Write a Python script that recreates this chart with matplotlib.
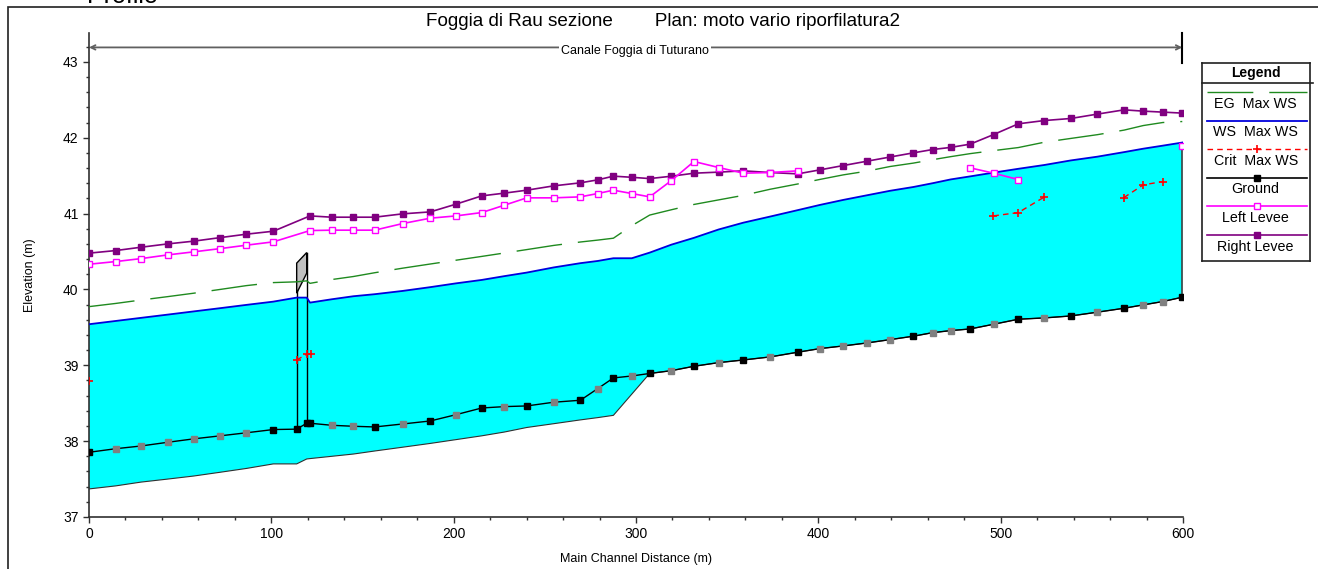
import numpy as np
import matplotlib.pyplot as plt
from matplotlib.lines import Line2D
from matplotlib.patches import Rectangle, Polygon

plt.rcParams['font.family'] = ['Liberation Sans', 'DejaVu Sans']

# river stations along the main channel (m)
station = [0, 14.6, 28.5, 43.2, 57.4, 72.0, 86.3, 101.1, 113.9, 119.4, 121.2,
           133.1, 145.0, 156.7, 172.0, 187.2, 201.3, 215.4, 227.8, 240.1, 254.9,
           269.5, 279.0, 287.6, 297.7, 307.5, 319.4, 331.8, 345.3, 358.9, 373.5,
           388.7, 400.9, 413.7, 426.9, 439.3, 452.1, 462.7, 472.6, 483.3, 496.2,
           509.7, 523.9, 538.4, 553.1, 567.7, 578.2, 588.9, 599.6]

ground = [37.853, 37.90, 37.936, 37.985, 38.03, 38.07, 38.11, 38.153, 38.158, 38.236, 38.236,
          38.209, 38.196, 38.187, 38.226, 38.266, 38.349, 38.437, 38.455, 38.464, 38.513,
          38.539, 38.692, 38.833, 38.859, 38.892, 38.929, 38.987, 39.035, 39.07, 39.11,
          39.172, 39.22, 39.255, 39.295, 39.338, 39.383, 39.43, 39.457, 39.479, 39.541,
          39.607, 39.624, 39.65, 39.70, 39.752, 39.796, 39.84, 39.897]

# surveyed sections (the rest are interpolated)
surveyed = [0, 101.1, 113.9, 119.4, 121.2, 156.7, 187.2, 215.4, 240.1, 269.5, 287.6,
            307.5, 331.8, 358.9, 388.7, 452.1, 483.3, 509.7, 538.4, 567.7, 599.6]

ws = [39.541, 39.584, 39.625, 39.668, 39.71, 39.753, 39.796, 39.839, 39.892, 39.892, 39.826,
      39.87, 39.91, 39.937, 39.98, 40.03, 40.08, 40.125, 40.175, 40.222, 40.29,
      40.346, 40.375, 40.411, 40.411, 40.485, 40.59, 40.68, 40.79, 40.88, 40.96,
      41.045, 41.114, 41.18, 41.242, 41.30, 41.35, 41.40, 41.45, 41.49, 41.54,
      41.59, 41.64, 41.70, 41.75, 41.81, 41.855, 41.895, 41.936]

eg = [39.773, 39.815, 39.86, 39.905, 39.95, 40.0, 40.05, 40.09, 40.10, 40.113, 40.08,
      40.13, 40.17, 40.22, 40.28, 40.335, 40.385, 40.435, 40.48, 40.525, 40.58,
      40.625, 40.65, 40.675, 40.84, 40.98, 41.05, 41.12, 41.18, 41.24, 41.32,
      41.39, 41.45, 41.51, 41.56, 41.62, 41.665, 41.71, 41.75, 41.79, 41.83,
      41.87, 41.94, 41.99, 42.04, 42.10, 42.16, 42.20, 42.213]

# old channel invert, upstream reach
invert_dist = [0, 14.6, 28.5, 43.2, 57.4, 72.0, 86.3, 101.1, 113.9, 119.4, 121.2,
               133.1, 145.0, 156.7, 172.0, 187.2, 201.3, 215.4, 227.8, 240.1, 254.9,
               269.5, 279.0, 287.6]
invert_elev = [37.37, 37.41, 37.46, 37.50, 37.54, 37.59, 37.64, 37.70, 37.70, 37.765, 37.77,
               37.80, 37.83, 37.87, 37.92, 37.97, 38.02, 38.07, 38.12, 38.18, 38.23,
               38.28, 38.31, 38.34]

rlev_dist = [0, 14.6, 28.5, 43.2, 57.4, 72.0, 86.3, 101.1, 121.2,
             133.1, 145.0, 156.7, 172.0, 187.2, 201.3, 215.4, 227.8, 240.1, 254.9,
             269.5, 279.0, 287.6, 297.7, 307.5, 319.4, 331.8, 345.3, 358.9, 373.5,
             388.7, 400.9, 413.7, 426.9, 439.3, 452.1, 462.7, 472.6, 483.3, 496.2,
             509.7, 523.9, 538.4, 553.1, 567.7, 578.2, 588.9, 599.6]
rlev = [40.478, 40.512, 40.556, 40.60, 40.636, 40.683, 40.728, 40.767, 40.969,
        40.952, 40.952, 40.952, 40.996, 41.022, 41.124, 41.233, 41.269, 41.308, 41.365,
        41.405, 41.444, 41.493, 41.478, 41.461, 41.492, 41.532, 41.546, 41.563, 41.541,
        41.523, 41.576, 41.633, 41.691, 41.745, 41.80, 41.844, 41.872, 41.915, 42.042,
        42.183, 42.226, 42.253, 42.311, 42.367, 42.35, 42.337, 42.324]

llev_dist = [0, 14.6, 28.5, 43.2, 57.4, 72.0, 86.3, 101.1, 121.2,
             133.1, 145.0, 156.7, 172.0, 187.2, 201.3, 215.4, 227.8, 240.1, 254.9,
             269.5, 279.0, 287.6, 297.7, 307.5, 319.4, 331.8, 345.3, 358.9, 373.5,
             388.7, np.nan, 483.3, 496.2, 509.7, np.nan, 599.6]
llev = [40.332, 40.367, 40.406, 40.455, 40.495, 40.538, 40.583, 40.627, 40.776,
        40.781, 40.781, 40.781, 40.868, 40.939, 40.969, 41.013, 41.110, 41.207, 41.207,
        41.220, 41.264, 41.308, 41.264, 41.22, 41.435, 41.686, 41.607, 41.532, 41.541,
        41.563, np.nan, 41.602, 41.532, 41.448, np.nan, 41.889]

crit_dist = [0, np.nan, 113.9, 119.4, 121.6, np.nan, 496.0, 509.7, 523.8,
             np.nan, 567.6, 578.2, 588.9]
crit = [38.79, np.nan, 39.07, 39.145, 39.145, np.nan, 40.969, 41.013, 41.216,
        np.nan, 41.211, 41.378, 41.422]

# bridge: upstream / downstream faces, high and low chord
bridge_dist = [113.9, 119.4]
bridge_high = [40.346, 40.486]
bridge_low = [39.95, 40.214]

title = "Foggia di Rau sezione        Plan: moto vario riporfilatura2"
reach_name = "Canale Foggia di Tuturano"

fig = plt.figure(figsize=(13.18, 5.69), dpi=100)
ax = fig.add_axes([89 / 1318, 1 - 517 / 569, 1094 / 1318, 484 / 569])

station_a = np.array(station)
ground_a = np.array(ground)

# water body: water surface on top, invert / ground below
down = station_a >= 307.5
bottom_d = list(invert_dist) + list(station_a[down])
bottom_z = list(invert_elev) + list(ground_a[down])
poly_x = list(station) + bottom_d[::-1]
poly_y = list(ws) + bottom_z[::-1]
ax.fill(poly_x, poly_y, color='#00ffff', lw=0, zorder=1)
ax.plot(bottom_d, bottom_z, color='#303030', lw=0.8, zorder=2)
ax.plot([station[-1], station[-1]], [ground[-1], ws[-1]], color='#404040', lw=1.2, zorder=2)

# bridge deck and abutment lines
ax.plot([bridge_dist[0]] * 2, [ground[8], bridge_high[0]], color='black', lw=1, zorder=4)
ax.plot([bridge_dist[1]] * 2, [ground[9], bridge_high[1]], color='black', lw=1, zorder=4)
deck = Polygon([(bridge_dist[0], bridge_high[0]), (bridge_dist[1], bridge_high[1]),
                (bridge_dist[1], bridge_low[1]), (bridge_dist[0], bridge_low[0])],
               closed=True, facecolor='#c0c0c0', edgecolor='black', lw=1, zorder=4)
ax.add_patch(deck)

ax.plot(station, eg, color='#1f8a1f', lw=1, dashes=(33, 11.5), zorder=5)
ax.plot(station, ws, color='#0000dd', lw=1.3, zorder=5)
ax.plot(rlev_dist, rlev, color='#800080', lw=1.2, marker='s', ms=4.5,
        mfc='#800080', mec='#800080', zorder=6)
ax.plot(llev_dist, llev, color='#ff00ff', lw=1.2, marker='s', ms=3.8,
        mfc='white', mec='#ff00ff', mew=1, zorder=6)

ax.plot(station, ground, color='black', lw=1.0, zorder=6)
real = np.isin(station_a, surveyed)
ax.plot(station_a[~real], ground_a[~real], ls='none', marker='s', ms=4,
        mfc='#808080', mec='#808080', zorder=7)
ax.plot(station_a[real], ground_a[real], ls='none', marker='s', ms=4,
        mfc='black', mec='black', zorder=7)

ax.plot(crit_dist, crit, color='red', lw=1, dashes=(4, 3), marker='+', ms=6,
        mew=1.2, zorder=8)

ax.set_xlim(0, 600)
ax.set_ylim(37, 43.38)
ax.set_xticks(np.arange(0, 601, 100))
ax.set_xticks(np.arange(0, 601, 20), minor=True)
ax.set_yticks(np.arange(37, 43.5, 1))
ax.set_yticks(np.arange(37, 43.4, 0.2), minor=True)
ax.tick_params(which='major', length=4, width=1, labelsize=10, color='#303030')
ax.tick_params(which='minor', length=2.5, width=1, color='#303030')
for s in ['top', 'right']:
    ax.spines[s].set_visible(False)
for s in ['left', 'bottom']:
    ax.spines[s].set_color('#303030')
    ax.spines[s].set_linewidth(1.2)

# reach extent arrow
ax.annotate('', xy=(0, 43.19), xytext=(station[-1], 43.19),
            arrowprops=dict(arrowstyle='<->', color='#606060', lw=1.3,
                            shrinkA=0, shrinkB=0, mutation_scale=8))
ax.plot([station[-1], station[-1]], [42.99, 43.38], color='black', lw=1.5, clip_on=False)
ax.text(299.5, 43.14, reach_name, ha='center', va='center', fontsize=9,
        bbox=dict(facecolor='white', edgecolor='none', pad=1.5), zorder=9)

fig.text(0.503, 1 - 21 / 569, title, ha='center', va='center', fontsize=13.6)
fig.text(636 / 1318, 1 - 559 / 569, "Main Channel Distance (m)", ha='center',
         va='center', fontsize=9)
fig.text(30 / 1318, 1 - 275 / 569, "Elevation (m)", ha='center', va='center',
         rotation=90, fontsize=9)
fig.text(87 / 1318, 1 - 3 / 569, "Profile", ha='left', va='baseline', fontsize=18)

# outer frame
fig.add_artist(Rectangle((8 / 1318, -0.1), 1.5, 0.1 + 1 - 7 / 569, transform=fig.transFigure,
                         fill=False, edgecolor='#202020', lw=1.2))

# legend box
lax = fig.add_axes([1201.7 / 1318, 1 - 260.7 / 569, 108.3 / 1318, 198 / 569])
lax.set_xlim(0, 108.3)
lax.set_ylim(198, 0)
lax.set_xticks([])
lax.set_yticks([])
for s in lax.spines.values():
    s.set_linewidth(1.2)
    s.set_color('#202020')
lax.plot([0, 111], [20.6, 20.6], color='#202020', lw=1.2, clip_on=False)
lax.text(54, 9.8, "Legend", ha='center', va='center', fontsize=10, fontweight='bold')

entries = [
    ("EG  Max WS", dict(color='#1f8a1f', lw=1, dashes=(33, 11.5))),
    ("WS  Max WS", dict(color='#0000dd', lw=1.3)),
    ("Crit  Max WS", dict(color='red', lw=1, dashes=(4, 3))),
    ("Ground", dict(color='black', lw=1.2)),
    ("Left Levee", dict(color='#ff00ff', lw=1.2)),
    ("Right Levee", dict(color='#800080', lw=1.2)),
]
markers = [None, None,
           dict(marker='+', ms=6, mew=1.2, color='red'),
           dict(marker='s', ms=4, color='black'),
           dict(marker='s', ms=3.8, mfc='white', mec='#ff00ff', mew=1),
           dict(marker='s', ms=4.5, color='#800080')]
for i, (label, style) in enumerate(entries):
    yl = 29.3 + 28.6 * i
    lax.plot([5.3, 105.3], [yl, yl], **style)
    if markers[i] is not None:
        lax.plot([55.3], [yl], ls='none', **markers[i])
    lax.text(54, yl + 11.5, label, ha='center', va='center', fontsize=10.3)

fig.savefig("out.png", dpi=100)
